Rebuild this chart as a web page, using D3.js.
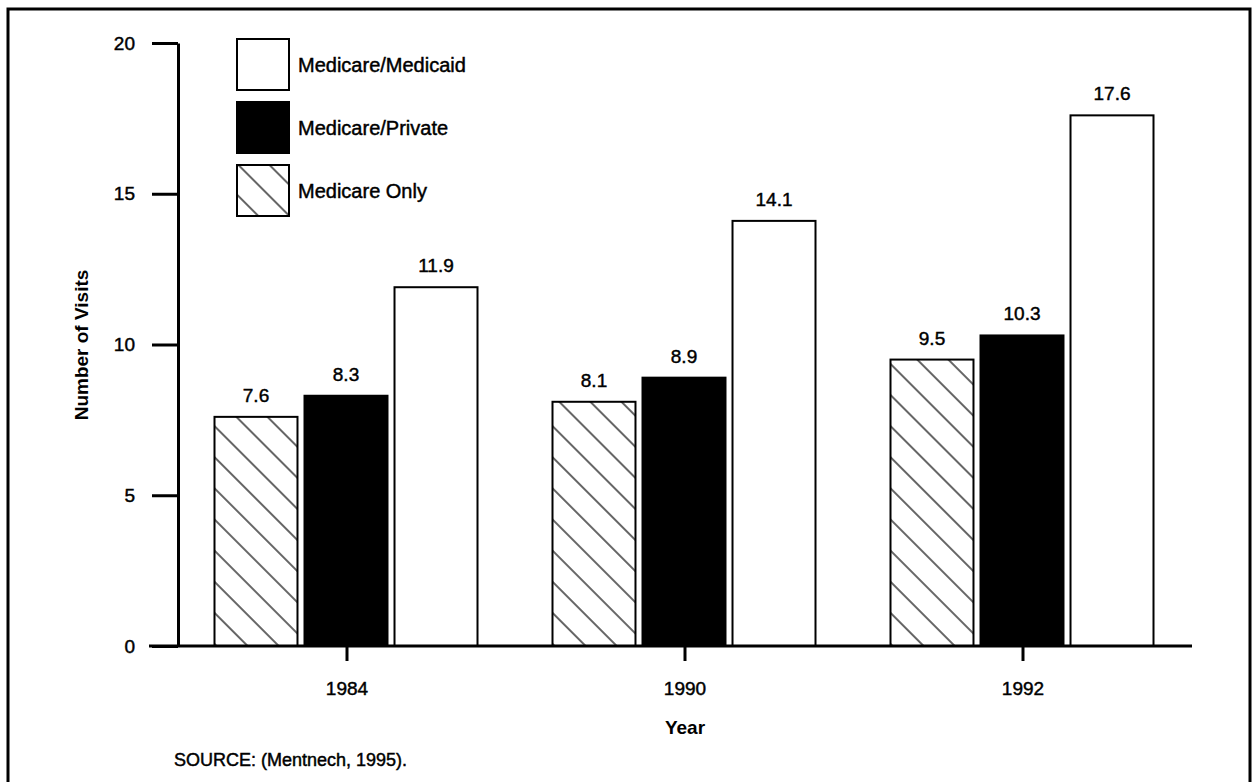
<!DOCTYPE html>
<html>
<head>
<meta charset="utf-8">
<script src="https://cdn.jsdelivr.net/npm/d3@7"></script>
<style>
  html, body { margin: 0; padding: 0; background: #fff; }
  svg { display: block; font-family: "Liberation Sans", Arial, Helvetica, sans-serif; }
  .heavy { stroke: #000; stroke-width: 0.45px; fill: #000; }
</style>
</head>
<body>
<svg id="chart" width="1255" height="782"></svg>
<script>
// ---- data ----
const years = ["1984", "1990", "1992"];
const seriesNames = ["Medicare Only", "Medicare/Private", "Medicare/Medicaid"];
const medicareOnly = [7.6, 8.1, 9.5];
const medicarePrivate = [8.3, 8.9, 10.3];
const medicareMedicaid = [11.9, 14.1, 17.6];
const yTicks = [0, 5, 10, 15, 20];
const legendOrder = ["Medicare/Medicaid", "Medicare/Private", "Medicare Only"];
const valueLabels = { "Medicare Only": ["7.6", "8.1", "9.5"], "Medicare/Private": ["8.3", "8.9", "10.3"], "Medicare/Medicaid": ["11.9", "14.1", "17.6"] };
const seriesValues = { "Medicare Only": medicareOnly, "Medicare/Private": medicarePrivate, "Medicare/Medicaid": medicareMedicaid };

const svg = d3.select("#chart");

// hatch pattern
const defs = svg.append("defs");
const pat = defs.append("pattern")
  .attr("id", "hatch")
  .attr("patternUnits", "userSpaceOnUse")
  .attr("width", 22).attr("height", 22)
  .attr("patternTransform", "rotate(-45)");
pat.append("rect").attr("width", 22).attr("height", 22).attr("fill", "#fff");
pat.append("line").attr("x1", 1).attr("y1", 0).attr("x2", 1).attr("y2", 22)
  .attr("stroke", "#000").attr("stroke-width", 1.2);

const fills = { "Medicare Only": "url(#hatch)", "Medicare/Private": "#000", "Medicare/Medicaid": "#fff" };

// frame
svg.append("rect").attr("x", 8).attr("y", 9).attr("width", 1242).attr("height", 790)
  .attr("fill", "none").attr("stroke", "#000").attr("stroke-width", 3);

// scales
const x0 = d3.scaleBand().domain(years).range([178, 1192]);
const x1 = d3.scaleBand().domain(seriesNames).range([-132.5, 130.5]).paddingInner(0.078).paddingOuter(0);
const y = d3.scaleLinear().domain([0, 20]).range([646, 43]);

// bars
const groups = svg.append("g").selectAll("g").data(years).join("g")
  .attr("transform", d => `translate(${x0(d) + x0.bandwidth() / 2},0)`);

groups.each(function (yr, i) {
  const g = d3.select(this);
  seriesNames.forEach(s => {
    const v = seriesValues[s][i];
    g.append("rect")
      .attr("x", x1(s)).attr("y", y(v))
      .attr("width", x1.bandwidth()).attr("height", y(0) - y(v))
      .attr("fill", fills[s]).attr("stroke", "#000").attr("stroke-width", 2);
    g.append("text").attr("class", "heavy")
      .attr("x", x1(s) + x1.bandwidth() / 2).attr("y", y(v) - 15)
      .attr("text-anchor", "middle").attr("font-size", 19)
      .text(valueLabels[s][i]);
  });
});

// y axis
const yAxis = d3.axisLeft(y).tickValues(yTicks).tickSize(26).tickPadding(17).tickSizeOuter(0);
const gy = svg.append("g").attr("transform", "translate(178,0)").call(yAxis);
gy.select(".domain").attr("stroke-width", 3);
gy.selectAll(".tick line").attr("stroke-width", 3);
gy.selectAll(".tick text").attr("class", "heavy").attr("font-size", 19).attr("font-family", "Liberation Sans, Arial, sans-serif");

// x axis
const xAxis = d3.axisBottom(x0).tickSize(15).tickPadding(21).tickSizeOuter(0);
const gx = svg.append("g").attr("transform", "translate(0,646)").call(xAxis);
gx.select(".domain").remove();
gx.append("line").attr("x1", 149).attr("x2", 1192).attr("y1", 0).attr("y2", 0)
  .attr("stroke", "#000").attr("stroke-width", 3);
gx.selectAll(".tick line").attr("stroke-width", 3);
gx.selectAll(".tick text").attr("class", "heavy").attr("font-size", 19).attr("font-family", "Liberation Sans, Arial, sans-serif");

// axis titles
svg.append("text").attr("x", 685).attr("y", 734).attr("text-anchor", "middle")
  .attr("font-size", 19).attr("font-weight", "bold").text("Year");
svg.append("text").attr("transform", "translate(88,345) rotate(-90)").attr("text-anchor", "middle")
  .attr("font-size", 19).attr("font-weight", "bold").text("Number of Visits");

// source
svg.append("text").attr("class", "heavy").attr("x", 174).attr("y", 766).attr("font-size", 18).text("SOURCE: (Mentnech, 1995).");

// legend
const lg = svg.append("g").selectAll("g").data(legendOrder).join("g")
  .attr("transform", (d, i) => `translate(237,${39 + i * 63})`);
lg.append("rect").attr("width", 52).attr("height", 51)
  .attr("fill", d => fills[d]).attr("stroke", "#000").attr("stroke-width", 2);
lg.append("text").attr("class", "heavy").attr("x", 61).attr("y", 26).attr("dy", "0.35em")
  .attr("font-size", 20).text(d => d);
</script>
</body>
</html>
